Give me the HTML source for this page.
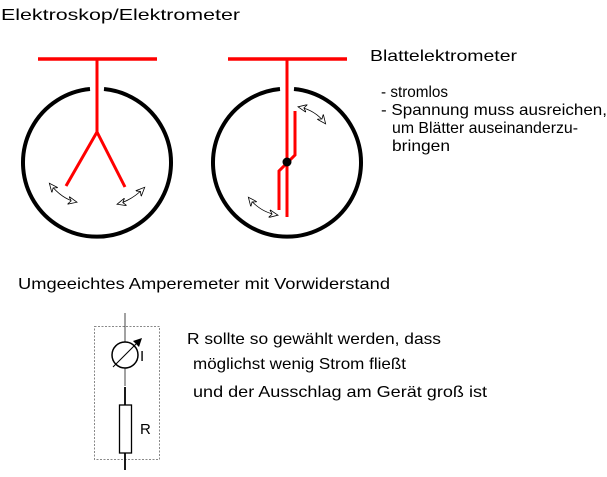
<!DOCTYPE html>
<html><head><meta charset="utf-8"><style>
body{margin:0;background:#fff;width:607px;height:472px;overflow:hidden}
svg text{font-family:"Liberation Sans",sans-serif;font-size:16px;fill:#000}
</style></head><body>
<svg width="607" height="472" viewBox="0 0 607 472" xmlns="http://www.w3.org/2000/svg">
<defs>
<marker id="oa" markerWidth="10" markerHeight="8" refX="8" refY="4" orient="auto-start-reverse" markerUnits="userSpaceOnUse">
<path d="M0,0 L9,4 L0,8 L3,4 Z" fill="#fff" stroke="#000" stroke-width="0.8"/>
</marker>
</defs>
<text x="1" y="20" textLength="239" lengthAdjust="spacingAndGlyphs">Elektroskop/Elektrometer</text>
<text x="370" y="61" textLength="147" lengthAdjust="spacingAndGlyphs">Blattelektrometer</text>
<text x="381" y="97" textLength="67" lengthAdjust="spacingAndGlyphs">- stromlos</text>
<text x="381" y="115" textLength="226" lengthAdjust="spacingAndGlyphs">- Spannung muss ausreichen,</text>
<text x="392" y="133" textLength="186" lengthAdjust="spacingAndGlyphs">um Blätter auseinanderzu-</text>
<text x="392" y="151" textLength="58" lengthAdjust="spacingAndGlyphs">bringen</text>
<text x="18" y="289" textLength="372" lengthAdjust="spacingAndGlyphs">Umgeeichtes Amperemeter mit Vorwiderstand</text>
<text x="187" y="344" textLength="254" lengthAdjust="spacingAndGlyphs">R sollte so gewählt werden, dass</text>
<text x="193" y="369" textLength="213" lengthAdjust="spacingAndGlyphs">möglichst wenig Strom fließt</text>
<text x="193" y="397" textLength="294" lengthAdjust="spacingAndGlyphs">und der Ausschlag am Gerät groß ist</text>

<path d="M90,89 A74,74 0 1 0 104,89" fill="none" stroke="#000" stroke-width="4"/>
<line x1="38" y1="59" x2="157" y2="59" stroke="red" stroke-width="3.5"/>
<line x1="97" y1="59" x2="97" y2="132" stroke="red" stroke-width="3"/>
<polyline points="66,186 97,132 125,187" fill="none" stroke="red" stroke-width="3"/>
<path d="M50,184 Q62,199 76,202" fill="none" stroke="#000" stroke-width="0.8" marker-start="url(#oa)" marker-end="url(#oa)"/>
<path d="M118,204 Q132,200 144,188" fill="none" stroke="#000" stroke-width="0.8" marker-start="url(#oa)" marker-end="url(#oa)"/>

<path d="M280,89 A74,74 0 1 0 294,89" fill="none" stroke="#000" stroke-width="4"/>
<line x1="228" y1="59" x2="347" y2="59" stroke="red" stroke-width="3.5"/>
<line x1="287" y1="59" x2="287" y2="217" stroke="red" stroke-width="3"/>
<polyline points="295,111 295,155 279,171 279,210" fill="none" stroke="red" stroke-width="3"/>
<circle cx="287" cy="162" r="4.5" fill="#000"/>
<path d="M299,107 Q315,110 325,123" fill="none" stroke="#000" stroke-width="0.8" marker-start="url(#oa)" marker-end="url(#oa)"/>
<path d="M249,198 Q260,212 277,215" fill="none" stroke="#000" stroke-width="0.8" marker-start="url(#oa)" marker-end="url(#oa)"/>

<rect x="94.5" y="326.5" width="65" height="133" fill="none" stroke="#888" stroke-width="1" stroke-dasharray="2,1.5"/>
<line x1="125" y1="313" x2="125" y2="386" stroke="#444" stroke-width="1"/>
<line x1="125" y1="387" x2="125" y2="470" stroke="#000" stroke-width="1.8"/>
<circle cx="125" cy="355" r="13" fill="#fff" stroke="#000" stroke-width="1.5"/>
<line x1="113" y1="367" x2="136" y2="344" stroke="#000" stroke-width="1"/>
<polygon points="142,338 133,341 139,347" fill="#000"/>
<text x="140" y="361" style="font-size:15px">I</text>
<rect x="119.5" y="405" width="12" height="48" fill="#fff" stroke="#000" stroke-width="1.3"/>
<text x="140" y="434" style="font-size:15px">R</text>
</svg>
</body></html>
